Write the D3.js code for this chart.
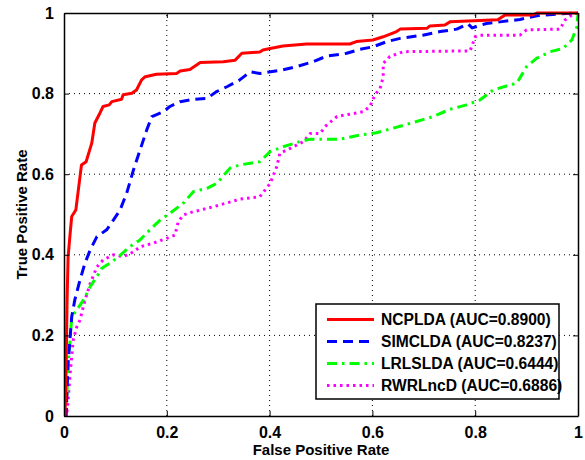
<!DOCTYPE html>
<html>
<head>
<meta charset="utf-8">
<script src="https://cdn.jsdelivr.net/npm/d3@7"></script>
<style>
  body { margin: 0; background: #fff; }
  svg { display: block; font-family: Arial, "Liberation Sans", sans-serif; font-weight: bold; }
</style>
</head>
<body>
<script>
// chart size, plot box
var width = 585, height = 460;
var margin = {left: 64, top: 13, right: 7, bottom: 44};

// series names and legend labels
var names = ["NCPLDA (AUC=0.8900)", "SIMCLDA (AUC=0.8237)", "LRLSLDA (AUC=0.6444)", "RWRLncD (AUC=0.6886)"];
var tickValues = [0, 0.2, 0.4, 0.6, 0.8, 1];
var tickLabels = ["0", "0.2", "0.4", "0.6", "0.8", "1"];

// ROC points [fpr, tpr]
var ncplda = [[0,0],[0.002,0],[0.004,0.114],[0.006,0.288],[0.008,0.395],[0.012,0.454],[0.015,0.495],
  [0.023,0.511],[0.034,0.623],[0.043,0.631],[0.054,0.677],[0.060,0.727],[0.070,0.752],[0.076,0.768],
  [0.088,0.772],[0.093,0.780],[0.112,0.786],[0.115,0.797],[0.132,0.801],[0.141,0.809],[0.151,0.834],
  [0.158,0.842],[0.180,0.848],[0.219,0.850],[0.226,0.856],[0.245,0.860],[0.265,0.877],[0.310,0.879],
  [0.333,0.883],[0.346,0.900],[0.381,0.903],[0.387,0.908],[0.401,0.912],[0.426,0.918],[0.472,0.923],
  [0.556,0.923],[0.569,0.929],[0.601,0.933],[0.621,0.941],[0.647,0.954],[0.654,0.960],[0.706,0.962],
  [0.712,0.968],[0.741,0.970],[0.751,0.978],[0.844,0.983],[0.858,0.995],[0.912,0.995],[0.920,1],[1,1]];

var simclda = [[0,0],[0.004,0],[0.008,0.131],[0.015,0.246],[0.021,0.288],[0.031,0.337],[0.041,0.380],
  [0.051,0.412],[0.064,0.445],[0.083,0.462],[0.096,0.486],[0.109,0.511],[0.122,0.553],[0.135,0.610],
  [0.148,0.660],[0.161,0.710],[0.171,0.743],[0.193,0.755],[0.206,0.768],[0.226,0.780],[0.252,0.786],
  [0.278,0.788],[0.297,0.805],[0.317,0.817],[0.342,0.834],[0.362,0.854],[0.381,0.850],[0.426,0.859],
  [0.453,0.867],[0.484,0.879],[0.511,0.893],[0.550,0.900],[0.576,0.910],[0.601,0.916],[0.628,0.929],
  [0.654,0.937],[0.698,0.945],[0.732,0.954],[0.764,0.960],[0.786,0.973],[0.794,0.963],[0.822,0.974],
  [0.848,0.978],[0.887,0.984],[0.920,0.993],[0.965,0.998],[1,1]];

var lrlslda = [[0,0],[0.004,0],[0.008,0.131],[0.012,0.189],[0.015,0.246],[0.025,0.263],[0.038,0.288],
  [0.051,0.321],[0.064,0.346],[0.073,0.366],[0.089,0.379],[0.106,0.395],[0.128,0.420],[0.148,0.437],
  [0.167,0.462],[0.187,0.486],[0.206,0.503],[0.232,0.528],[0.252,0.557],[0.278,0.565],[0.297,0.577],
  [0.323,0.615],[0.342,0.623],[0.381,0.631],[0.401,0.656],[0.426,0.668],[0.459,0.681],[0.479,0.687],
  [0.537,0.687],[0.576,0.697],[0.608,0.703],[0.640,0.714],[0.673,0.726],[0.718,0.743],[0.751,0.761],
  [0.783,0.772],[0.809,0.784],[0.835,0.809],[0.861,0.819],[0.881,0.826],[0.900,0.867],[0.920,0.888],
  [0.946,0.904],[0.971,0.912],[0.988,0.933],[0.998,0.966],[1,1]];

var rwrlncd = [[0,0],[0.005,0],[0.008,0.040],[0.012,0.106],[0.018,0.189],[0.025,0.222],[0.031,0.238],
  [0.041,0.288],[0.051,0.329],[0.064,0.370],[0.076,0.387],[0.096,0.400],[0.115,0.395],[0.135,0.407],
  [0.148,0.420],[0.174,0.429],[0.200,0.441],[0.216,0.449],[0.222,0.481],[0.232,0.499],[0.252,0.507],
  [0.278,0.515],[0.304,0.524],[0.342,0.538],[0.381,0.544],[0.401,0.577],[0.414,0.619],[0.420,0.652],
  [0.440,0.664],[0.466,0.681],[0.479,0.701],[0.498,0.701],[0.511,0.722],[0.531,0.743],[0.556,0.749],
  [0.582,0.755],[0.595,0.768],[0.605,0.797],[0.615,0.813],[0.621,0.842],[0.621,0.875],[0.634,0.892],
  [0.660,0.904],[0.790,0.906],[0.800,0.941],[0.809,0.945],[0.887,0.945],[0.900,0.958],[0.965,0.960],
  [0.975,0.983],[0.991,0.998],[1,1]];

var series = [ncplda, simclda, lrlslda, rwrlncd];
var colors = ["#ff0000", "#0000ff", "#00ff00", "#ff00ff"];
var dashes = [null, "10,6", "10,5,2.5,5", "2.5,4"];

var svg = d3.select("body").append("svg")
    .attr("width", width)
    .attr("height", height);

var x = d3.scaleLinear().domain([0, 1]).range([margin.left, width - margin.right]);
var y = d3.scaleLinear().domain([0, 1]).range([height - margin.bottom, margin.top]);

//dotted grid
var grid = svg.append("g");
grid.selectAll("line.gx")
    .data(tickValues.slice(1, -1))
    .enter().append("line")
    .attr("x1", d => x(d)).attr("x2", d => x(d))
    .attr("y1", y(0)).attr("y2", y(1))
    .attr("stroke", "#000").attr("stroke-width", 1)
    .attr("stroke-dasharray", "1,4");
grid.selectAll("line.gy")
    .data(tickValues.slice(1, -1))
    .enter().append("line")
    .attr("y1", d => y(d)).attr("y2", d => y(d))
    .attr("x1", x(0)).attr("x2", x(1))
    .attr("stroke", "#000").attr("stroke-width", 1)
    .attr("stroke-dasharray", "1,4");

// curves, clipped to the plot box
svg.append("clipPath").attr("id", "clip")
  .append("rect")
    .attr("x", x(0)).attr("y", y(1) - 2)
    .attr("width", x(1) - x(0) + 2).attr("height", y(0) - y(1) + 2);

var line = d3.line().x(d => x(d[0])).y(d => y(d[1]));

// draw in reverse so red ends on top
for (var i = series.length - 1; i >= 0; i--) {
    svg.append("path")
       .datum(series[i])
       .attr("clip-path", "url(#clip)")
       .attr("d", line)
       .attr("fill", "none")
       .attr("stroke", colors[i])
       .attr("stroke-width", 3)
       .attr("stroke-linejoin", "round")
       .attr("stroke-dasharray", dashes[i]);
}

// axes, ticks pointing inwards, box all round
var fmt = (d, i) => tickLabels[i];
svg.append("g")
   .attr("transform", "translate(0," + y(0) + ")")
   .call(d3.axisBottom(x).tickValues(tickValues).tickFormat(fmt).tickSizeInner(-5).tickSizeOuter(0).tickPadding(11))
   .call(g => g.selectAll("text").attr("font-size", 16).attr("font-weight", "bold").attr("fill", "#000").attr("font-family", "Arial, 'Liberation Sans', sans-serif"));
svg.append("g")
   .attr("transform", "translate(" + x(0) + ",0)")
   .call(d3.axisLeft(y).tickValues(tickValues).tickFormat(fmt).tickSizeInner(-5).tickSizeOuter(0).tickPadding(10))
   .call(g => g.selectAll("text").attr("font-size", 16).attr("font-weight", "bold").attr("fill", "#000").attr("font-family", "Arial, 'Liberation Sans', sans-serif"));
svg.append("g")
   .attr("transform", "translate(0," + y(1) + ")")
   .call(d3.axisTop(x).tickValues(tickValues).tickFormat("").tickSizeInner(-5).tickSizeOuter(0));
svg.append("g")
   .attr("transform", "translate(" + x(1) + ",0)")
   .call(d3.axisRight(y).tickValues(tickValues).tickFormat("").tickSizeInner(-5).tickSizeOuter(0));
svg.selectAll(".domain").attr("stroke", "#000").attr("stroke-width", 1.5);
svg.selectAll(".tick line").attr("stroke", "#000");

// axis titles
svg.append("text")
   .attr("x", (x(0) + x(1)) / 2)
   .attr("y", 455)
   .attr("text-anchor", "middle")
   .attr("font-size", 15)
   .text("False Positive Rate");
svg.append("text")
   .attr("transform", "translate(27," + ((y(0) + y(1)) / 2) + ") rotate(-90)")
   .attr("text-anchor", "middle")
   .attr("font-size", 15)
   .text("True Positive Rate");

// legend
var legend = svg.append("g").attr("transform", "translate(316,304)");
legend.append("rect")
   .attr("width", 243).attr("height", 95)
   .attr("fill", "#fff").attr("stroke", "#000").attr("stroke-width", 1.5);
names.forEach(function(n, i) {
    var ly = 15.5 + i * 22;
    legend.append("line")
       .attr("x1", 11).attr("x2", 58)
       .attr("y1", ly).attr("y2", ly)
       .attr("stroke", colors[i]).attr("stroke-width", 3)
       .attr("stroke-dasharray", dashes[i]);
    legend.append("text")
       .attr("x", 65).attr("y", ly + 5.5)
       .attr("font-size", 15.6)
       .text(n);
});
</script>
</body>
</html>
